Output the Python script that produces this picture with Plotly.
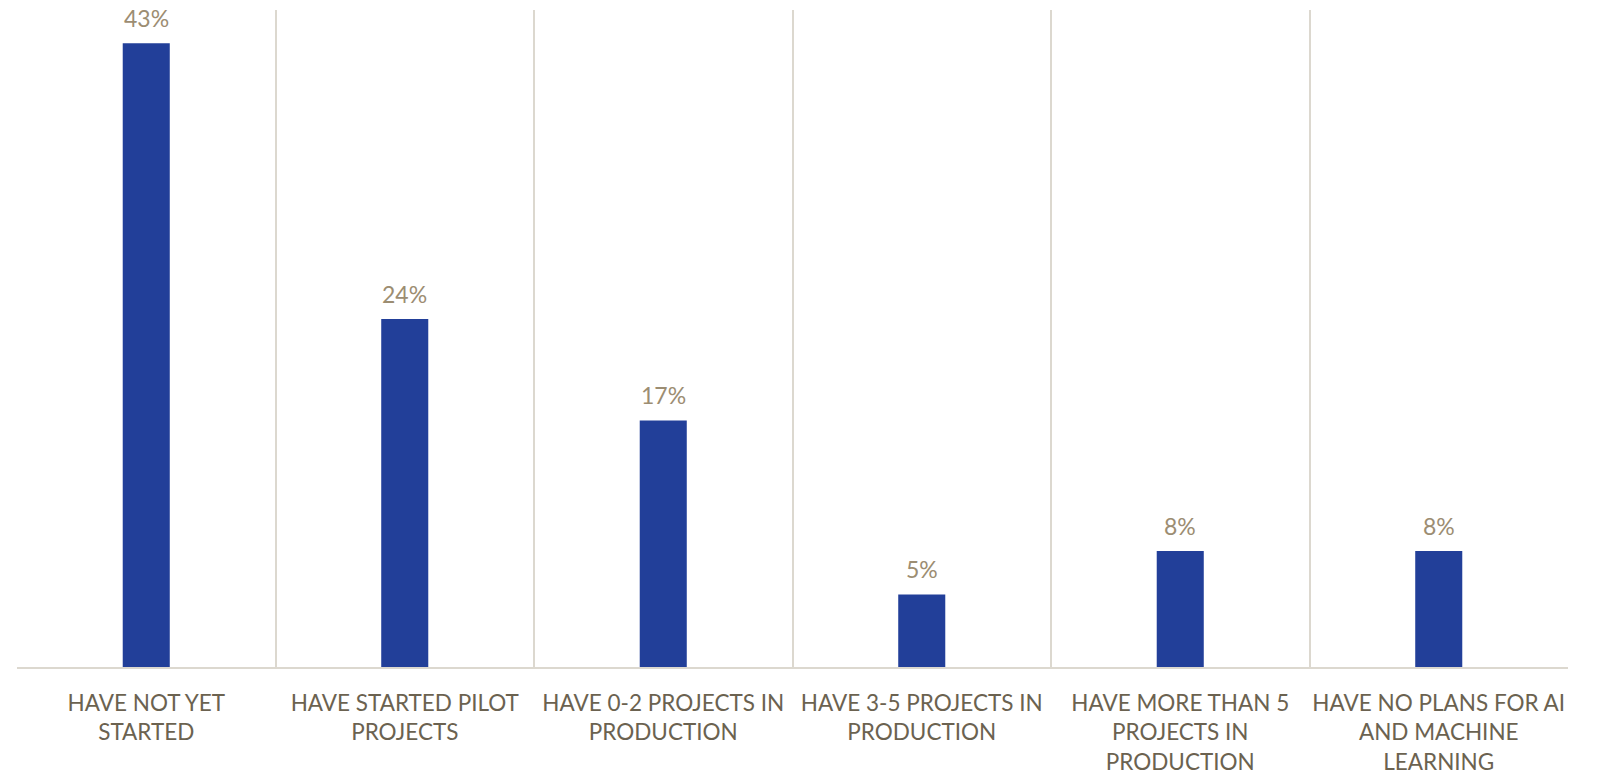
import plotly.graph_objects as go

categories = [
    "HAVE NOT YET<br>STARTED",
    "HAVE STARTED PILOT<br>PROJECTS",
    "HAVE 0-2 PROJECTS IN<br>PRODUCTION",
    "HAVE 3-5 PROJECTS IN<br>PRODUCTION",
    "HAVE MORE THAN 5<br>PROJECTS IN<br>PRODUCTION",
    "HAVE NO PLANS FOR AI<br>AND MACHINE<br>LEARNING",
]
values = [43, 24, 17, 5, 8, 8]

BAR = "#223F99"
VALUE_TXT = "#9C8D72"
CAT_TXT = "#6B6250"
GRID = "#DCD8CF"
FONT = "Lato, 'Open Sans', sans-serif"

fig = go.Figure(
    go.Bar(
        x=categories,
        y=values,
        marker=dict(color=BAR, line=dict(width=0)),
        width=0.182,
        hoverinfo="skip",
    )
)

for c, v in zip(categories, values):
    fig.add_annotation(
        x=c, y=v, text=f"{v}%", showarrow=False,
        yanchor="bottom", yshift=9,
        font=dict(family=FONT, size=23, color=VALUE_TXT),
    )

fig.update_layout(
    width=1598, height=777,
    margin=dict(l=17, r=30, t=10, b=110, autoexpand=False),
    paper_bgcolor="white", plot_bgcolor="white",
    showlegend=False,
    font=dict(family=FONT),
)
fig.update_xaxes(
    type="category",
    tickson="boundaries",
    showgrid=True, gridcolor=GRID, gridwidth=2,
    showline=True, linecolor=GRID, linewidth=2,
    ticks="", ticklabelstandoff=15,
    tickangle=0, automargin=False,
    tickfont=dict(family=FONT, size=22.5, color=CAT_TXT),
)
fig.update_yaxes(
    range=[0, 45.3],
    showgrid=False, zeroline=False, showticklabels=False,
    automargin=False,
)

fig.write_html("out.html")
